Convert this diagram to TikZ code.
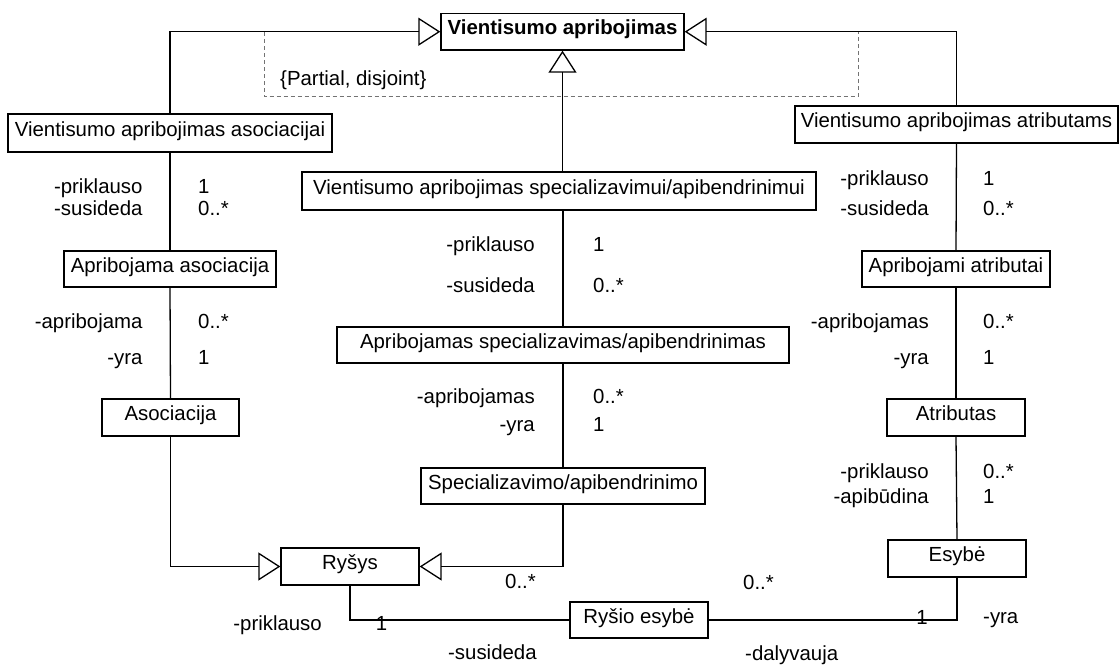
\documentclass[tikz,border=0pt]{standalone}
\usepackage{fontspec}
\setmainfont{Liberation Sans}
\usetikzlibrary{arrows.meta}
\begin{document}
\begin{tikzpicture}[x=1pt, y=-1pt,
  font=\fontsize{20.4}{24}\selectfont,
  cls/.style={draw, fill=white, line width=1.3pt, inner sep=0pt,
    text height=0.72em, text depth=0.1em},
  role/.style={anchor=east, inner sep=0pt, text height=0.72em, text depth=0pt},
  mult/.style={anchor=west, inner sep=0pt, text height=0.72em, text depth=0pt},
  note/.style={inner sep=0pt, text height=0.72em, text depth=0pt},
  assoc/.style={line width=1.3pt},
  gen/.style={line width=1.3pt, line join=miter,
    -{Triangle[open, length=22pt, width=28pt]}},
  cstr/.style={draw=black!55, line width=0.9pt, dash pattern=on 4pt off 3pt}]
\useasboundingbox (0,0) rectangle (1119,664);

% classes
\node[cls, minimum width=243pt, minimum height=36.7pt] (top) at (562.5,31.7) {\textbf{Vientisumo apribojimas}};
\node[cls, minimum width=324pt, minimum height=38pt] (asocv) at (170,133) {Vientisumo apribojimas asociacijai};
\node[cls, minimum width=323pt, minimum height=37pt] (atribv) at (956.5,124.5) {Vientisumo apribojimas atributams};
\node[cls, minimum width=514pt, minimum height=38pt] (spec) at (559,191) {Vientisumo apribojimas specializavimui/apibendrinimui};
\node[cls, minimum width=452pt, minimum height=36pt] (restr) at (563,345) {Apribojamas specializavimas/apibendrinimas};
\node[cls, minimum width=284pt, minimum height=36pt] (sg) at (563,486) {Specializavimo/apibendrinimo};
\node[cls, minimum width=212pt, minimum height=36pt] (aa) at (170,269) {Apribojama asociacija};
\node[cls, minimum width=137pt, minimum height=37pt] (as) at (170.5,417.5) {Asociacija};
\node[cls, minimum width=188pt, minimum height=36pt] (ab) at (956,269) {Apribojami atributai};
\node[cls, minimum width=138pt, minimum height=37pt] (at) at (956,417.5) {Atributas};
\node[cls, minimum width=138pt, minimum height=37pt] (es) at (957,558.5) {Esybė};
\node[cls, minimum width=138pt, minimum height=37pt] (rys) at (350,566.5) {Ryšys};
\node[cls, minimum width=138pt, minimum height=36pt] (re) at (639,620) {Ryšio esybė};

% {Partial, disjoint} constraint frame
\coordinate (cl) at (264,32);
\coordinate (cr) at (858,32);
\draw[cstr] (cl) -- (cl |- 0,96.5) -- (cr |- 0,96.5) -- (cr);
\node[note, anchor=west] (cnote) at (280,82) {\{Partial, disjoint\}};

% generalisations
\draw[gen] (asocv.north) |- (top.west);
\draw[gen] (atribv.north) |- (top.east);
\draw[gen] (top.south |- spec.north) -- (top.south);
\draw[gen] (as.south) |- (rys.west);
\draw[gen] (sg.south) |- (rys.east);

% associations
\draw[assoc] (asocv.south) -- (aa.north);
\draw[assoc] (aa.south) -- (as.north);
\draw[assoc] (atribv.south) -- (ab.north);
\draw[assoc] (ab.south) -- (at.north);
\draw[assoc] (at.south) -- (es.north);
\draw[assoc] (restr.north |- spec.south) -- (restr.north);
\draw[assoc] (restr.south) -- (sg.north);
\draw[assoc] (rys.south) |- (re.west);
\draw[assoc] (es.south) |- (re.east);

% left column ends
\node[role] (l1r) at (142.7,190) {-priklauso};
\node[mult] (l1m) at (198,190) {1};
\node[role] (l2r) at (142.7,212) {-susideda};
\node[mult] (l2m) at (198,212) {0..*};
\node[role] (l3r) at (142.7,325) {-apribojama};
\node[mult] (l3m) at (198,325) {0..*};
\node[role] (l4r) at (142.7,361) {-yra};
\node[mult] (l4m) at (198,361) {1};

% middle column ends
\node[role] (m1r) at (535,248) {-priklauso};
\node[mult] (m1m) at (593,248) {1};
\node[role] (m2r) at (535,289) {-susideda};
\node[mult] (m2m) at (593,289) {0..*};
\node[role] (m3r) at (535,400) {-apribojamas};
\node[mult] (m3m) at (593,400) {0..*};
\node[role] (m4r) at (535,428) {-yra};
\node[mult] (m4m) at (593,428) {1};

% right column ends
\node[role] (r1r) at (929,182) {-priklauso};
\node[mult] (r1m) at (983,182) {1};
\node[role] (r2r) at (929,212) {-susideda};
\node[mult] (r2m) at (983,212) {0..*};
\node[role] (r3r) at (929,325) {-apribojamas};
\node[mult] (r3m) at (983,325) {0..*};
\node[role] (r4r) at (929,361) {-yra};
\node[mult] (r4m) at (983,361) {1};
\node[role] (r5r) at (929,475) {-priklauso};
\node[mult] (r5m) at (983,475) {0..*};
\node[role] (r6r) at (929,500) {-apibūdina};
\node[mult] (r6m) at (983,500) {1};

% bottom ends
\node[mult] (b1) at (505,585) {0..*};
\node[mult] (b2) at (743,585.5) {0..*};
\node[role] (b3) at (322,627) {-priklauso};
\node[note] (b4) at (381.5,627) {1};
\node[mult] (b5) at (448,656) {-susideda};
\node[note] (b6) at (922,621) {1};
\node[mult] (b7) at (983,620) {-yra};
\node[mult] (b8) at (745,657) {-dalyvauja};
\end{tikzpicture}
\end{document}
